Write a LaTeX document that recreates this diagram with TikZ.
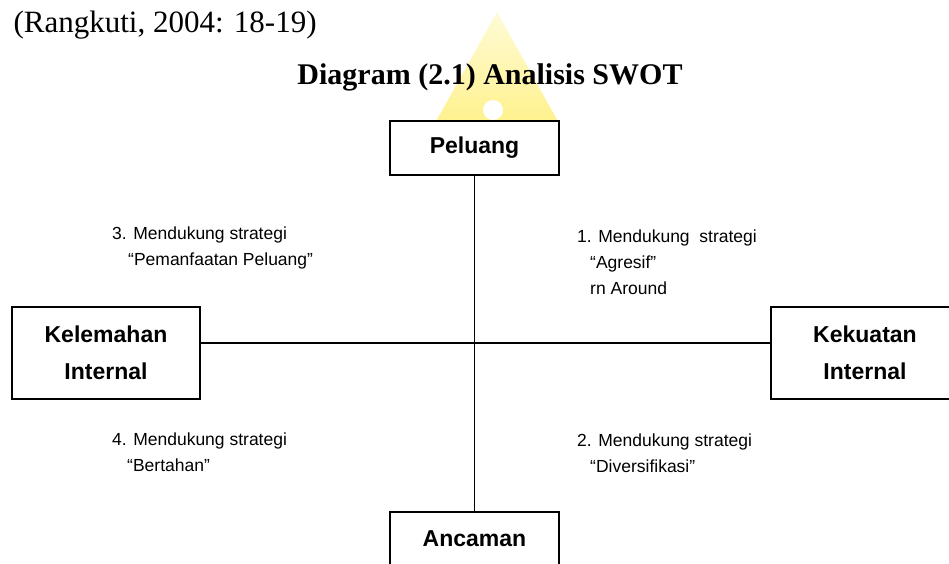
\documentclass[tikz,border=0pt]{standalone}
\usepackage{fontspec}
\setmainfont{Liberation Serif}
\setsansfont{Liberation Sans}
\definecolor{wmtop}{RGB}{255,251,214}
\definecolor{wmbot}{RGB}{255,241,140}
\begin{document}
\begin{tikzpicture}[x=1pt,y=-1pt,
  kotak/.style={draw,line width=1.7pt,fill=white,align=center,inner sep=0pt,
    font=\sffamily\bfseries\fontsize{23}{37}\selectfont},
  teks/.style={anchor=north west,align=left,inner sep=0pt,
    font=\sffamily\fontsize{17.5}{26}\selectfont}]
\useasboundingbox (0,0) rectangle (949,564);
\clip (0,0) rectangle (949,564);
% watermark
\shade[top color=wmtop,bottom color=wmbot] (497,12)--(560,125)--(434,125)--cycle;
\fill[white] (493,110) circle (10);
% judul
\node[anchor=base west,font=\fontsize{31}{36}\selectfont] (sumber) at (10,33) {(Rangkuti, 2004: 18-19)};
\node[anchor=base,font=\bfseries\fontsize{30}{36}\selectfont] (judul) at (490,85) {Diagram (2.1) Analisis SWOT};
% kotak
\node[kotak,minimum width=169pt,minimum height=54pt] (peluang) at (474.5,148) {Peluang};
\node[kotak,minimum width=169pt,minimum height=54pt] (ancaman) at (474.5,539) {Ancaman};
\node[kotak,minimum width=188pt,minimum height=92pt] (kelemahan) at (106,353) {Kelemahan\\Internal};
\node[kotak,minimum width=188pt,minimum height=92pt] (kekuatan) at (865,353) {Kekuatan\\Internal};
\coordinate (pusat) at (474.5,343);
\draw[line width=1.4pt] (peluang)--(ancaman);
\draw[line width=1.4pt] (kelemahan.east |- pusat)--(kekuatan.west |- pusat);
% strategi
\node[teks] (s3) at (112,227) {3. Mendukung strategi\\\hspace*{16pt}“Pemanfaatan Peluang”};
\node[teks] (s1) at (577,230) {1. Mendukung\ \ strategi\\\hspace*{13pt}“Agresif”\\\hspace*{13pt}rn Around};
\node[teks] (s4) at (112,433) {4. Mendukung strategi\\\hspace*{15pt}“Bertahan”};
\node[teks] (s2) at (577,434) {2. Mendukung strategi\\\hspace*{13pt}“Diversifikasi”};
\end{tikzpicture}
\end{document}
